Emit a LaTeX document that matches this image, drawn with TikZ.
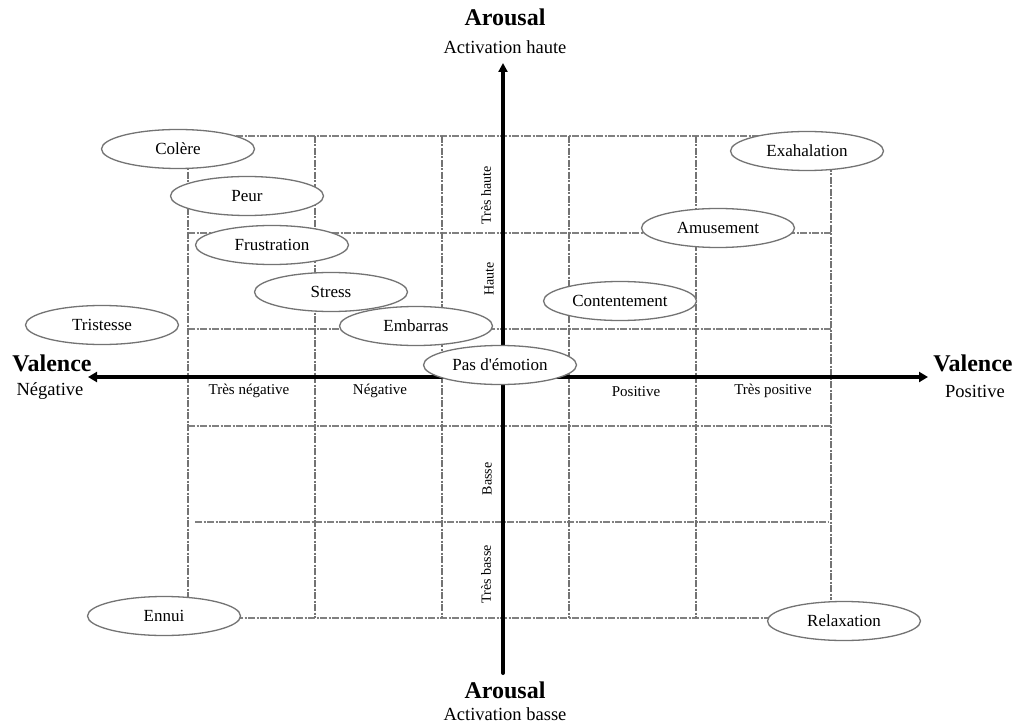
\documentclass[tikz,border=0pt]{standalone}
\usepackage{fontspec}
\setmainfont{Liberation Serif}
\usetikzlibrary{shapes.geometric,arrows.meta}
\begin{document}
\begin{tikzpicture}[x=1pt,y=-1pt,
  emo/.style={ellipse, draw=black!55, line width=1.3pt, fill=white,
    minimum width=153pt, minimum height=39pt, inner sep=0pt,
    font=\fontsize{17}{18}\selectfont},
  gridline/.style={draw=black!50, line width=1.6pt,
    dash pattern=on 7pt off 1.5pt on 2pt off 1.5pt},
  vgridline/.style={draw=black!55, line width=1.1pt,
    dash pattern=on 7pt off 1.5pt on 2pt off 1.5pt},
  axisline/.style={line width=4pt, black},
  axtitle/.style={font=\fontsize{24}{26}\bfseries\selectfont},
  axsub/.style={font=\fontsize{18.5}{20}\selectfont},
  tick/.style={font=\fontsize{15}{17}\selectfont},
  rtick/.style={font=\fontsize{14}{16}\selectfont, rotate=90}]
\useasboundingbox[fill=white] (0,0) rectangle (1019,727);

% grid
\foreach \yy/\xa/\xb in {136/188/831, 233/188/831, 329/188/831, 426/188/831, 522/195/829, 618/188/831}
  \draw[gridline] (\xa,\yy) -- (\xb,\yy);
\foreach \xx/\ya/\yb in {188/160/600, 315/136/618, 442/136/618, 569/136/618, 696/136/618, 831/165/600}
  \draw[vgridline] (\xx,\ya) -- (\xx,\yb);

% axes
\coordinate (vtop) at (503,63);
\coordinate (vbot) at (503,673);
\coordinate (hleft) at (88,377);
\coordinate (hright) at (928,377);
\draw[axisline, line cap=round, -{Triangle[length=9pt,width=9pt]}] (vbot) -- (vtop);
\draw[axisline, {Triangle[length=9pt,width=10pt]}-{Triangle[length=9pt,width=10pt]}] (hleft) -- (hright);

% axis titles
\node[axtitle] (arT) at (505,17) {Arousal};
\node[axsub] (acH) at (505,47) {Activation haute};
\node[axtitle] (arB) at (505,690) {Arousal};
\node[axsub] (acB) at (505,714) {Activation basse};
\node[axtitle] (vaL) at (52,363) {Valence};
\node[axsub] (neg) at (50,391) {Négative};
\node[axtitle] (vaR) at (973,363) {Valence};
\node[axsub] (pos) at (975,391) {Positive};

% ticks
\node[tick] (t1) at (249,391) {Très négative};
\node[tick] (t2) at (380,391) {Négative};
\node[tick] (t3) at (636,392) {Positive};
\node[tick] (t4) at (773,391) {Très positive};
\node[rtick] (r1) at (486,195) {Très haute};
\node[rtick] (r2) at (489,279) {Haute};
\node[rtick] (r3) at (487,479) {Basse};
\node[rtick] (r4) at (486,574) {Très basse};

% emotions
\node[emo] (colere) at (178,149) {Colère};
\node[emo] (peur) at (247,196) {Peur};
\node[emo] (frus) at (272,245) {Frustration};
\node[emo] (stress) at (331,292) {Stress};
\node[emo] (trist) at (102,325) {Tristesse};
\node[emo] (embar) at (416,326) {Embarras};
\node[emo] (pas) at (500,365) {Pas d\textquotesingle émotion};
\node[emo] (exa) at (807,151) {Exahalation};
\node[emo] (amus) at (718,228) {Amusement};
\node[emo] (cont) at (620,301) {Contentement};
\node[emo] (ennui) at (164,616) {Ennui};
\node[emo] (relax) at (844,621) {Relaxation};
\end{tikzpicture}
\end{document}
